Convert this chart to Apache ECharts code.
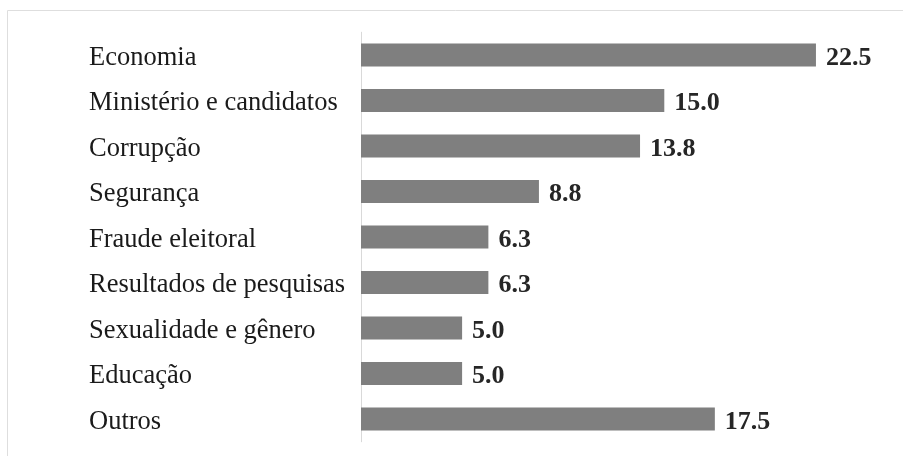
<!DOCTYPE html>
<html>
<head>
<meta charset="utf-8">
<script src="https://cdn.jsdelivr.net/npm/echarts@6/dist/echarts.min.js"></script>
<style>
html,body{margin:0;padding:0;background:#fff;}
#chart{width:903px;height:456px;}
</style>
</head>
<body>
<div id="chart"></div>
<script>
const categories = ["Economia","Ministério e candidatos","Corrupção","Segurança","Fraude eleitoral","Resultados de pesquisas","Sexualidade e gênero","Educação","Outros"];
const values = [22.5, 15.0, 13.8, 8.8, 6.3, 6.3, 5.0, 5.0, 17.5];

const serif = '"Liberation Serif", "Times New Roman", serif';
const chart = echarts.init(document.getElementById('chart'), null, {renderer:'canvas'});
chart.setOption({
  animation:false,
  backgroundColor:'#ffffff',
  graphic:[{
    type:'rect', silent:true,
    shape:{x:7.5, y:10.5, width:1000, height:1000},
    style:{fill:'none', stroke:'#dedede', lineWidth:1}
  }],
  grid:{left:361, right:36.5, top:32.25, bottom:14.25, containLabel:false},
  xAxis:{type:'value', min:0, max:25, show:false},
  yAxis:{
    type:'category', data:categories, inverse:true,
    axisLine:{show:true, lineStyle:{color:'#d9d9d9', width:1}},
    axisTick:{show:false},
    axisLabel:{align:'left', margin:272, fontFamily:serif, fontSize:26.5, color:'#1a1a1a',
      formatter:v=>'{c|'+v+'}',
      rich:{c:{fontFamily:serif, fontSize:26.5, color:'#1a1a1a', padding:[6,0,0,0]}}}
  },
  series:[{
    type:'bar', data:values, barWidth:23,
    itemStyle:{color:'#7f7f7f'},
    label:{show:true, position:'right', distance:10, offset:[0,3], fontFamily:serif, fontWeight:'bold', fontSize:26, color:'#262626',
      formatter:p=>p.value.toFixed(1)}
  }]
});
</script>
</body>
</html>
